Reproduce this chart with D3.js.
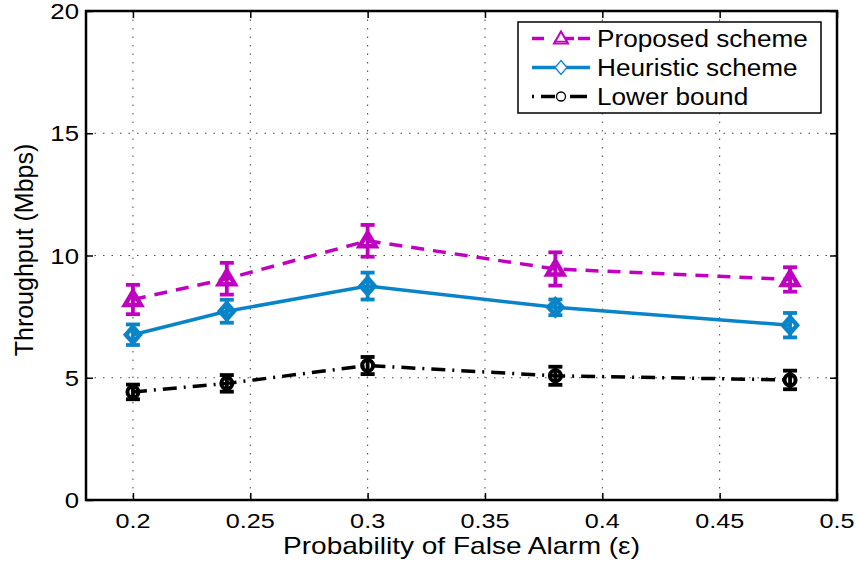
<!DOCTYPE html>
<meta charset="utf-8">
<style>
body { margin: 0; background: #fff; }
text { font-family: Arial, "Liberation Sans", Helvetica, sans-serif; fill: #000; }
.grid line { stroke: #444; stroke-width: 1; stroke-dasharray: 1.5,7; }
</style>
<svg width="857" height="565"></svg>
<script src="https://cdn.jsdelivr.net/npm/d3@7"></script>
<script>

// data
var xValues = [0.2, 0.24, 0.3, 0.38, 0.48];
var proposed = [8.2, 9.05, 10.6, 9.45, 9.02];
var proposedErr = [0.6, 0.65, 0.65, 0.68, 0.5];
var heuristic = [6.76, 7.72, 8.75, 7.88, 7.15];
var heuristicErr = [0.42, 0.47, 0.55, 0.32, 0.5];
var lowerBound = [4.42, 4.77, 5.5, 5.08, 4.91];
var lowerErr = [0.3, 0.34, 0.35, 0.37, 0.38];
var xTicks = [0.2, 0.25, 0.3, 0.35, 0.4, 0.45, 0.5];
var yTicks = [0, 5, 10, 15, 20];
var seriesNames = ["Proposed scheme", "Heuristic scheme", "Lower bound"];

var svg = d3.select("svg");
var pLeft = 86, pRight = 837, pTop = 11, pBottom = 500;

var x = d3.scaleLinear().domain([0.18, 0.5]).range([pLeft, pRight]);
var y = d3.scaleLinear().domain([0, 20]).range([pBottom, pTop]);

// dotted grid
var grid = svg.append("g").attr("class", "grid");
grid.selectAll(".gx").data(xTicks.filter(function(d) { return d < 0.5; }))
  .enter().append("line")
    .attr("x1", function(d) { return x(d); }).attr("x2", function(d) { return x(d); })
    .attr("y1", pTop).attr("y2", pBottom);
grid.selectAll(".gy").data(yTicks.filter(function(d) { return d > 0 && d < 20; }))
  .enter().append("line")
    .attr("x1", pLeft).attr("x2", pRight)
    .attr("y1", function(d) { return y(d); }).attr("y2", function(d) { return y(d); });

// axes (ticks inward, box)
function tidy(g) { g.select(".domain").remove(); g.selectAll("line").attr("stroke-width", 1.5); }
svg.append("g").attr("transform", "translate(0," + pBottom + ")")
  .call(d3.axisBottom(x).tickValues(xTicks).tickSize(-7).tickFormat("")).call(tidy);
svg.append("g").attr("transform", "translate(0," + pTop + ")")
  .call(d3.axisTop(x).tickValues(xTicks).tickSize(-7).tickFormat("")).call(tidy);
svg.append("g").attr("transform", "translate(" + pLeft + ",0)")
  .call(d3.axisLeft(y).tickValues(yTicks).tickSize(-7).tickFormat("")).call(tidy);
svg.append("g").attr("transform", "translate(" + pRight + ",0)")
  .call(d3.axisRight(y).tickValues(yTicks).tickSize(-7).tickFormat("")).call(tidy);

svg.append("rect")
  .attr("x", pLeft).attr("y", pTop)
  .attr("width", pRight - pLeft).attr("height", pBottom - pTop)
  .attr("fill", "none").attr("stroke", "#000").attr("stroke-width", 2.5);

// stretched text helper
function label(g, tx, ty, str, size, sx, anchor, rot) {
  return g.append("g")
      .attr("transform", "translate(" + tx + "," + ty + ") scale(" + sx + ",1)" + (rot ? " rotate(" + rot + ")" : ""))
    .append("text")
      .attr("font-size", size)
      .attr("text-anchor", anchor)
      .text(str);
}

var labels = svg.append("g");
xTicks.forEach(function(d) { label(labels, x(d), 528, String(d), 21, 1.2, "middle"); });
yTicks.forEach(function(d) { label(labels, 79, y(d) + 8, String(d), 22, 1.17, "end"); });
label(labels, (pLeft + pRight) / 2, 554, "Probability of False Alarm (\u03b5)", 23, 1.22, "middle");
label(labels, 33, 250, "Throughput (Mbps)", 25, 1, "middle", -90);

// markers
var markers = {
  tri: "M0,-8L8,5.5L-8,5.5Z",
  dia: "M0,-8L7,0L0,8L-7,0Z"
};

var series = [
  { name: seriesNames[0], vals: proposed, err: proposedErr, color: "#c000c0", dash: "13,9", marker: "tri" },
  { name: seriesNames[1], vals: heuristic, err: heuristicErr, color: "#0a84c8", dash: null, marker: "dia" },
  { name: seriesNames[2], vals: lowerBound, err: lowerErr, color: "#000", dash: "14,7,2,7", marker: "circ" }
];

var line = d3.line().x(function(d) { return x(d[0]); }).y(function(d) { return y(d[1]); });

series.forEach(function(s) {
  var pts = xValues.map(function(v, i) { return [v, s.vals[i], s.err[i]]; });
  var g = svg.append("g");
  g.append("path").datum(pts)
    .attr("d", line)
    .attr("fill", "none").attr("stroke", s.color).attr("stroke-width", 3.5)
    .attr("stroke-dasharray", s.dash);
  var eb = g.selectAll(".eb").data(pts).enter().append("g")
    .attr("stroke", s.color).attr("stroke-width", 3.8).attr("fill", "none");
  eb.append("line")
    .attr("x1", function(d) { return x(d[0]); }).attr("x2", function(d) { return x(d[0]); })
    .attr("y1", function(d) { return y(d[1] - d[2]); }).attr("y2", function(d) { return y(d[1] + d[2]); });
  [-1, 1].forEach(function(sign) {
    eb.append("line")
      .attr("x1", function(d) { return x(d[0]) - 7; }).attr("x2", function(d) { return x(d[0]) + 7; })
      .attr("y1", function(d) { return y(d[1] + sign * d[2]); }).attr("y2", function(d) { return y(d[1] + sign * d[2]); });
  });
  if (s.marker === "circ") {
    eb.append("circle")
      .attr("cx", function(d) { return x(d[0]); }).attr("cy", function(d) { return y(d[1]); })
      .attr("r", 5.5).attr("stroke-width", 4);
  } else {
    eb.append("path")
      .attr("transform", function(d) { return "translate(" + x(d[0]) + "," + y(d[1]) + ")"; })
      .attr("d", markers[s.marker]).attr("stroke-width", 4.5).attr("stroke-linejoin", "miter");
  }
});

// legend
var lg = svg.append("g");
lg.append("rect").attr("x", 518).attr("y", 22).attr("width", 303).attr("height", 91)
  .attr("fill", "#fff").attr("stroke", "#000").attr("stroke-width", 1.5);
series.forEach(function(s, i) {
  var cy = 38.5 + i * 29;
  lg.append("line").attr("x1", 532).attr("x2", 590).attr("y1", cy).attr("y2", cy)
    .attr("stroke", s.color).attr("stroke-width", 3.5)
    .attr("stroke-dasharray", s.marker === "tri" ? "12,18" : (s.marker === "circ" ? "2,7,14,30" : null));
  if (s.marker === "circ") {
    lg.append("line").attr("x1", 570).attr("x2", 585).attr("y1", cy).attr("y2", cy)
      .attr("stroke", s.color).attr("stroke-width", 3.5);
    lg.append("circle").attr("cx", 561).attr("cy", cy).attr("r", 4.5)
      .attr("fill", "#fff").attr("stroke", s.color).attr("stroke-width", 1.3);
  } else if (s.marker === "tri") {
    lg.append("line").attr("x1", 578).attr("x2", 590).attr("y1", cy).attr("y2", cy)
      .attr("stroke", s.color).attr("stroke-width", 3.5);
    lg.append("path").attr("transform", "translate(561," + cy + ")")
      .attr("d", "M0,-7L7,5L-7,5Z").attr("fill", "#fff").attr("stroke", s.color).attr("stroke-width", 2);
    lg.append("line").attr("x1", 554).attr("x2", 568).attr("y1", cy + 3).attr("y2", cy + 3)
      .attr("stroke", s.color).attr("stroke-width", 1.5);
  } else {
    lg.append("path").attr("transform", "translate(561," + cy + ")")
      .attr("d", "M0,-7L6,0L0,7L-6,0Z").attr("fill", "#fff").attr("stroke", s.color).attr("stroke-width", 1.3);
  }
  label(lg, 597, cy + 8.5, s.name, 24, 1.09, "start");
});

</script>
